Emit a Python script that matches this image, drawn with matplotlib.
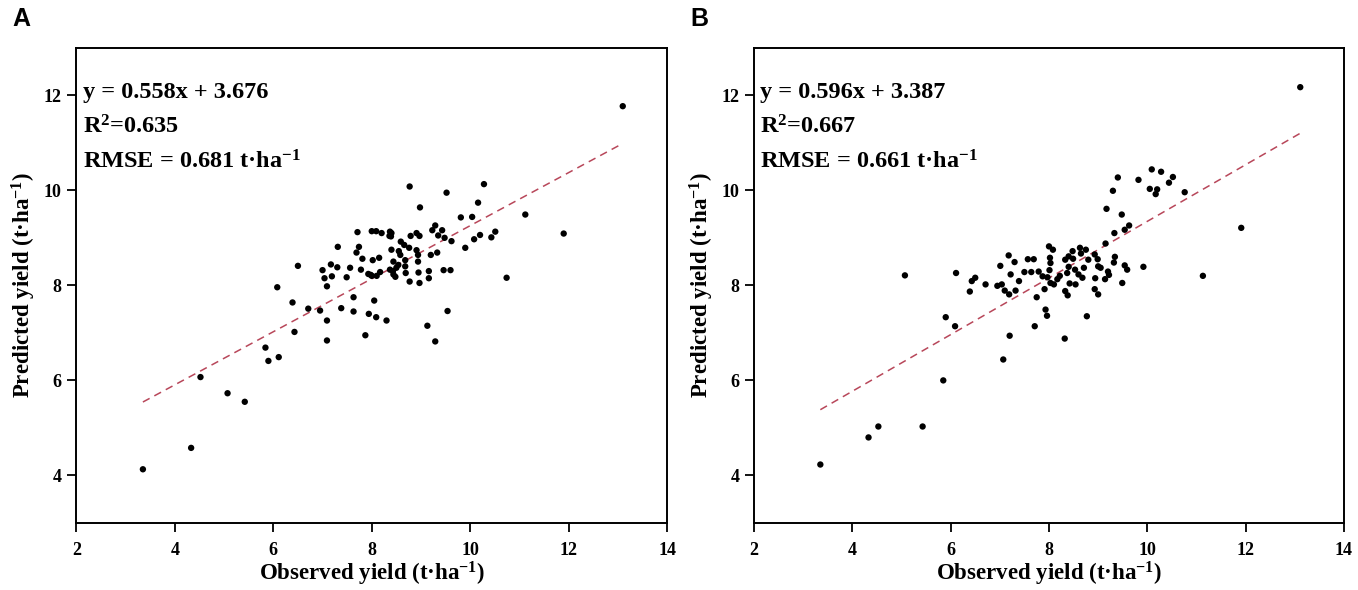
import numpy as np
import matplotlib
matplotlib.use('Agg')
import matplotlib.pyplot as plt

plt.rcParams['font.family'] = ['Liberation Serif', 'DejaVu Serif']
plt.rcParams['font.weight'] = 'bold'
plt.rcParams['mathtext.fontset'] = 'custom'
plt.rcParams['mathtext.rm'] = 'Liberation Serif:bold'
plt.rcParams['mathtext.bf'] = 'Liberation Serif:bold'
plt.rcParams['mathtext.it'] = 'Liberation Serif:bold'
plt.rcParams['mathtext.default'] = 'bf'

# panel A: observed vs predicted
obs_a = [3.35, 4.33, 4.52, 5.07, 5.42, 5.84, 5.90, 6.11, 6.08, 6.39, 6.43, 6.50, 6.71, 6.95,
         7.00, 7.04, 7.09, 7.09, 7.09, 7.17, 7.19, 7.30, 7.31, 7.38, 7.49, 7.56, 7.63, 7.63,
         7.71, 7.74, 7.69, 7.81, 7.78, 7.87, 7.94, 8.02, 8.00, 8.09, 8.05, 8.09, 7.93, 8.00,
         8.10, 8.77, 8.98, 9.52, 10.28, 10.16, 9.81, 10.04, 9.29, 9.23, 9.43, 9.35, 9.48, 9.62,
         10.20, 10.08, 10.43, 10.51, 9.90, 8.91, 8.97, 8.79, 8.37, 8.40, 8.36, 8.39, 8.20, 8.59,
         8.66, 8.76, 8.40, 8.55, 8.58, 8.91, 8.94, 9.20, 9.33, 8.44, 8.54, 8.50, 8.43, 8.37,
         8.68, 8.68, 8.69, 8.94, 8.95, 8.97, 9.16, 9.16, 9.46, 9.60, 8.77, 8.48, 8.44, 8.15,
         8.17, 7.98, 9.54, 9.13, 9.29, 8.30, 13.10, 11.12, 11.90, 10.74]
pred_a = [4.13, 4.58, 6.07, 5.73, 5.55, 6.69, 6.41, 6.49, 7.96, 7.64, 7.02, 8.41, 7.51, 7.47,
          8.32, 8.15, 7.98, 7.26, 6.84, 8.44, 8.19, 8.38, 8.81, 7.52, 8.17, 8.37, 7.75, 7.45,
          9.12, 8.81, 8.69, 8.56, 8.33, 6.95, 7.40, 8.53, 9.14, 9.14, 7.68, 7.33, 8.24, 8.20,
          8.20, 10.08, 9.64, 9.95, 10.13, 9.74, 9.43, 9.44, 9.26, 9.16, 9.16, 9.05, 9.00, 8.93,
          9.06, 8.97, 9.01, 9.13, 8.79, 9.10, 9.04, 9.04, 9.13, 9.10, 9.04, 9.03, 9.10, 8.92,
          8.85, 8.79, 8.75, 8.72, 8.64, 8.74, 8.64, 8.64, 8.69, 8.50, 8.43, 8.37, 8.30, 8.33,
          8.53, 8.40, 8.26, 8.50, 8.27, 8.05, 8.30, 8.15, 8.32, 8.32, 8.08, 8.18, 8.23, 8.58,
          8.28, 8.22, 7.46, 7.15, 6.82, 7.26, 11.77, 9.49, 9.09, 8.16]

# panel B
obs_b = [3.35, 4.33, 4.53, 5.43, 5.85, 5.07, 6.11, 5.90, 6.09, 7.07, 7.20, 6.39, 6.43, 6.50,
         6.71, 6.95, 7.04, 7.10, 7.19, 7.32, 7.18, 7.01, 7.30, 7.22, 7.39, 7.50, 7.64, 7.57,
         7.69, 7.75, 7.71, 7.93, 7.96, 7.91, 7.79, 7.87, 8.00, 8.08, 8.02, 8.03, 8.01, 7.97,
         8.03, 8.10, 8.17, 8.22, 8.33, 8.40, 8.48, 8.49, 8.63, 8.65, 8.75, 8.80, 8.40, 8.37,
         8.53, 8.60, 8.71, 8.33, 8.38, 8.42, 8.54, 8.68, 8.77, 8.32, 8.93, 8.99, 9.00, 9.05,
         8.93, 9.00, 8.94, 9.14, 9.22, 9.20, 9.15, 9.33, 9.17, 9.30, 9.40, 9.34, 9.32, 13.11,
         11.91, 11.13, 9.92, 10.09, 10.28, 10.52, 10.44, 9.82, 10.05, 10.20, 10.17, 10.76, 9.48,
         9.54, 9.63, 9.54, 9.59, 9.49]
pred_b = [4.23, 4.80, 5.03, 5.03, 6.00, 8.21, 8.26, 7.33, 7.14, 6.44, 6.94, 7.87, 8.09, 8.16,
          8.02, 7.99, 8.02, 7.89, 7.81, 7.89, 8.63, 8.41, 8.49, 8.23, 8.09, 8.28, 8.28, 8.55,
          8.55, 7.75, 7.14, 7.49, 7.36, 7.92, 8.29, 8.19, 8.82, 8.75, 8.58, 8.47, 8.32, 8.17,
          8.05, 8.02, 8.13, 8.20, 8.54, 8.61, 8.72, 8.56, 8.79, 8.67, 8.75, 8.54, 8.39, 8.26,
          8.33, 8.23, 8.37, 7.88, 7.79, 8.04, 8.02, 8.16, 7.35, 6.88, 8.65, 8.55, 8.40, 8.37,
          7.92, 7.81, 8.15, 8.13, 8.22, 8.29, 8.88, 9.10, 9.61, 9.99, 10.27, 8.60, 8.48, 12.17,
          9.21, 8.20, 8.39, 10.44, 10.39, 10.28, 10.16, 10.22, 10.03, 10.02, 9.92, 9.96, 9.49,
          9.17, 9.26, 8.42, 8.33, 8.05]

slopes = [0.558, 0.596]
intercepts = [3.676, 3.387]
r2 = ['0.635', '0.667']
rmse = ['0.681', '0.661']
letters = ['A', 'B']

fig = plt.figure(figsize=(13.58, 5.90), dpi=100)
positions = [[0.0563, 0.1136, 0.4349, 0.8055], [0.5552, 0.1136, 0.4345, 0.8055]]
data = [(obs_a, pred_a), (obs_b, pred_b)]

for i in range(2):
    ax = fig.add_axes(positions[i])
    x, y = np.array(data[i][0]), np.array(data[i][1])
    ax.scatter(x, y, s=21, color='black', edgecolors='none', zorder=3)
    xl = np.array([x.min(), x.max()])
    ax.plot(xl, slopes[i] * xl + intercepts[i], linestyle=(0, (5, 3.5)),
            color='#b8475a', linewidth=1.1, zorder=2)
    ax.set_xlim(2, 14)
    ax.set_ylim(3, 13)
    ax.set_xticks([2, 4, 6, 8, 10, 12, 14])
    ax.set_yticks([4, 6, 8, 10, 12])
    ax.tick_params(direction='out', length=6.5, width=1.3, labelsize=13)
    ax.tick_params(axis='x', pad=7)
    ax.tick_params(axis='y', pad=4)
    for sp in ax.spines.values():
        sp.set_linewidth(1.4)
    ax.set_xlabel('Observed yield (t·ha$^{-1}$)', fontsize=16.5, fontweight='bold', labelpad=1)
    ax.set_ylabel('Predicted yield (t·ha$^{-1}$)', fontsize=16.5, fontweight='bold', labelpad=4)
    ax.text(0.011, 0.905, 'y = {}x + {}'.format(slopes[i], intercepts[i]), transform=ax.transAxes,
            fontsize=17.5, fontweight='bold', va='center')
    ax.text(0.011, 0.833, 'R$^{2}$=' + r2[i], transform=ax.transAxes,
            fontsize=17.5, fontweight='bold', va='center')
    ax.text(0.011, 0.76, 'RMSE = {} t·ha$^{{-1}}$'.format(rmse[i]), transform=ax.transAxes,
            fontsize=17.5, fontweight='bold', va='center')
    fig.text(positions[i][0] - 0.047, 0.968, letters[i], fontsize=18, fontweight='bold',
             family='Liberation Sans', va='center')

fig.savefig('out.png', dpi=100)
